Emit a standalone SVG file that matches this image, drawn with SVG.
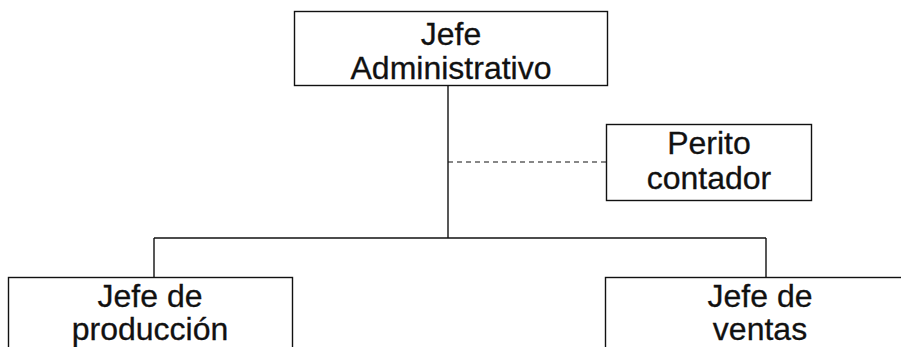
<svg xmlns="http://www.w3.org/2000/svg" width="901" height="347" viewBox="0 0 901 347">
  <style>
    .box { fill: #ffffff; stroke: #111111; stroke-width: 1.4; }
    .lbl { font-family: "Liberation Sans", Arial, sans-serif; font-size: 32px; fill: #111111; stroke: #111111; stroke-width: 0.3; text-anchor: middle; }
    .link { stroke: #111111; stroke-width: 1.4; fill: none; }
    .staff { stroke: #111111; stroke-width: 1.2; fill: none; stroke-dasharray: 5 4; }
  </style>
  <rect x="0" y="0" width="901" height="347" fill="#ffffff"/>
  <g id="connectors">
    <line class="link" x1="448" y1="85" x2="448" y2="238"/>
    <line class="link" x1="154" y1="238" x2="766" y2="238"/>
    <line class="link" x1="154" y1="238" x2="154" y2="277"/>
    <line class="link" x1="766" y1="238" x2="766" y2="277"/>
    <line class="staff" x1="448" y1="162" x2="606" y2="162"/>
  </g>
  <g id="jefe-administrativo">
    <rect class="box" x="294.5" y="11.5" width="313" height="74"/>
    <text class="lbl"><tspan x="451" y="45">Jefe</tspan><tspan x="451" y="78.5">Administrativo</tspan></text>
  </g>
  <g id="perito-contador">
    <rect class="box" x="606.5" y="124.5" width="205" height="76"/>
    <text class="lbl"><tspan x="709" y="154">Perito</tspan><tspan x="709" y="189">contador</tspan></text>
  </g>
  <g id="jefe-produccion">
    <rect class="box" x="8.5" y="277.5" width="284" height="90"/>
    <text class="lbl"><tspan x="150" y="307">Jefe de</tspan><tspan x="150" y="340">producción</tspan></text>
  </g>
  <g id="jefe-ventas">
    <rect class="box" x="605.5" y="277.5" width="320" height="90"/>
    <text class="lbl"><tspan x="760" y="307">Jefe de</tspan><tspan x="760" y="340">ventas</tspan></text>
  </g>
</svg>
